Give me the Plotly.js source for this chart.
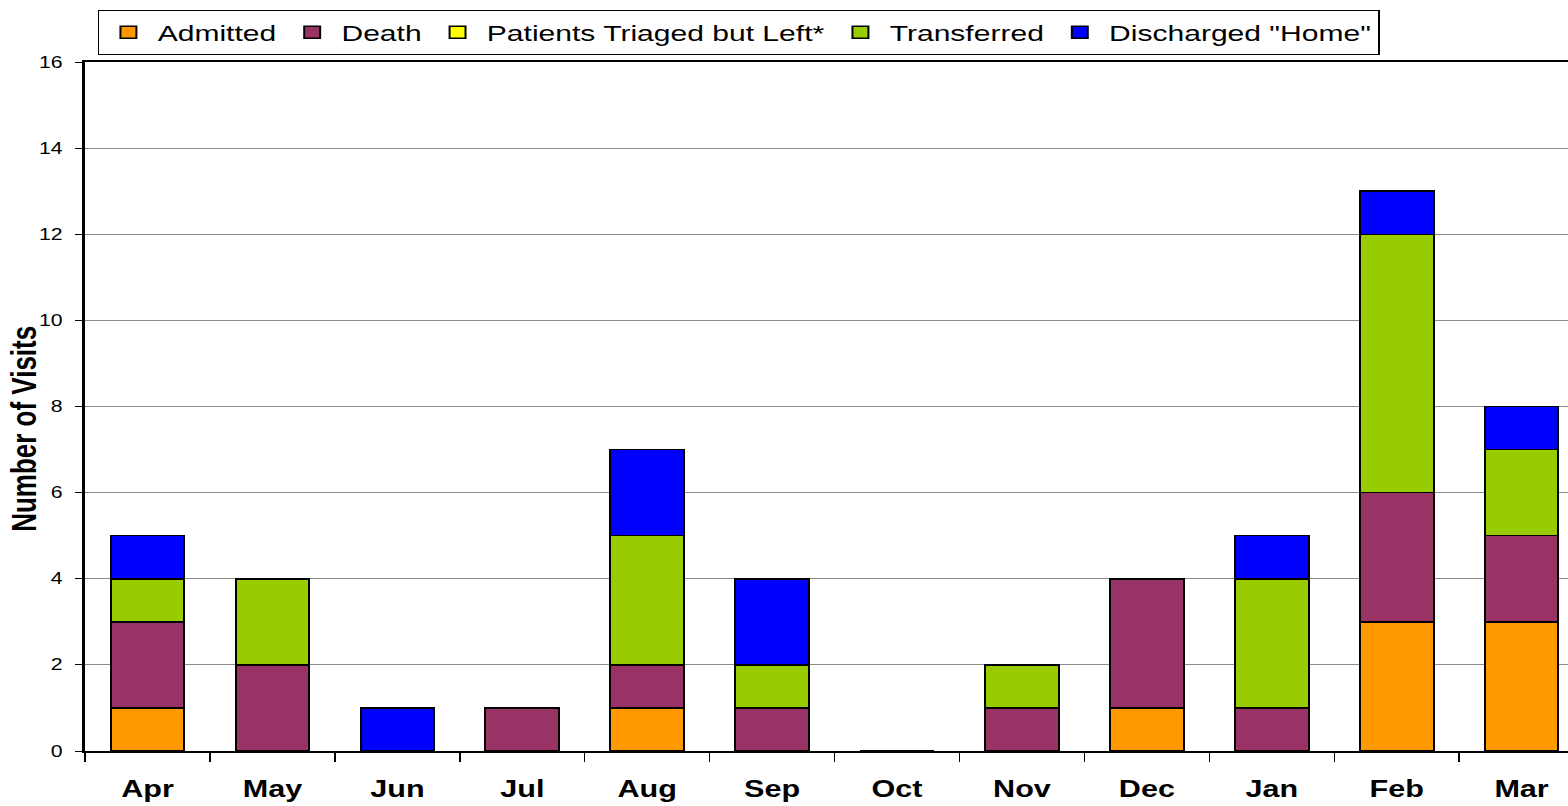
<!DOCTYPE html>
<html>
<head>
<meta charset="utf-8">
<script src="https://cdn.plot.ly/plotly-3.0.1.min.js"></script>
<style>
html,body{margin:0;padding:0;overflow:hidden;background:#fff;width:1568px;height:806px;}
#chart{width:1200px;height:806px;transform:scaleX(1.33);transform-origin:0 0;}
</style>
</head>
<body>
<div id="chart"></div>
<script>
const months = ["Apr","May","Jun","Jul","Aug","Sep","Oct","Nov","Dec","Jan","Feb","Mar"];
const admitted    = [1,0,0,0,1,0,0,0,1,0,3,3];
const death       = [2,2,0,1,1,1,0,1,3,1,3,2];
const triagedLeft = [0,0,0,0,0,0,0,0,0,0,0,0];
const transferred = [1,2,0,0,3,1,0,1,0,3,6,2];
const discharged  = [1,0,1,0,2,2,0,0,0,1,1,1];
const yTicks = [0,2,4,6,8,10,12,14,16];
const yTitle = "Number of Visits";

const seriesNames = ["Admitted","Death","Patients Triaged but Left*","Transferred","Discharged \"Home\""];
const seriesValues = [admitted, death, triagedLeft, transferred, discharged];
const seriesColors = ["#FF9900","#993366","#FFFF00","#99CC00","#0000FF"];

const data = seriesNames.map((n,i)=>({
  type:"bar",
  name:n,
  x:months,
  y:seriesValues[i],
  marker:{color:seriesColors[i], line:{color:"#000000", width:1.5}},
  hoverinfo:"x+y+name"
}));

const layout = {
  width:1200, height:806,
  margin:{l:64, r:9, t:62, b:55},
  barmode:"stack",
  bargap:0.41,
  paper_bgcolor:"#ffffff",
  plot_bgcolor:"#ffffff",
  font:{family:"Liberation Sans, Arial, sans-serif", color:"#000"},
  xaxis:{
    type:"category",
    tickson:"boundaries",
    ticks:"outside", ticklen:9, tickcolor:"#000", tickwidth:1,
    showline:true, linecolor:"#000", linewidth:1.5, mirror:true,
    showgrid:false,
    tickfont:{family:"Liberation Sans, Arial, sans-serif", size:23, color:"#000", weight:"bold"},
    ticklabelstandoff:17
  },
  yaxis:{
    range:[0,16],
    tickvals:yTicks,
    ticks:"outside", ticklen:6, tickcolor:"#000", tickwidth:1,
    showline:true, linecolor:"#000", linewidth:1.5,
    showgrid:true, gridcolor:"#8c8c8c", gridwidth:1,
    zeroline:false,
    tickfont:{family:"Liberation Sans, Arial, sans-serif", size:16, color:"#000"},
    ticklabelstandoff:6
  },
  annotations:[{
    text:yTitle, textangle:-90,
    xref:"paper", yref:"paper", x:-0.0414, y:0.468,
    xanchor:"center", yanchor:"middle", showarrow:false,
    font:{family:"Liberation Sans, Arial, sans-serif", size:26, color:"#000", weight:"bold"}
  }],
  showlegend:true,
  legend:{
    orientation:"h",
    x:0.0083, xanchor:"left",
    y:1.0755, yanchor:"top",
    bordercolor:"#000", borderwidth:1.2, bgcolor:"#fff",
    itemwidth:34,
    font:{family:"Liberation Sans, Arial, sans-serif", size:22.6, color:"#000"},
    traceorder:"normal"
  }
};

Plotly.newPlot("chart", data, layout, {displayModeBar:false, responsive:false});
</script>
</body>
</html>
